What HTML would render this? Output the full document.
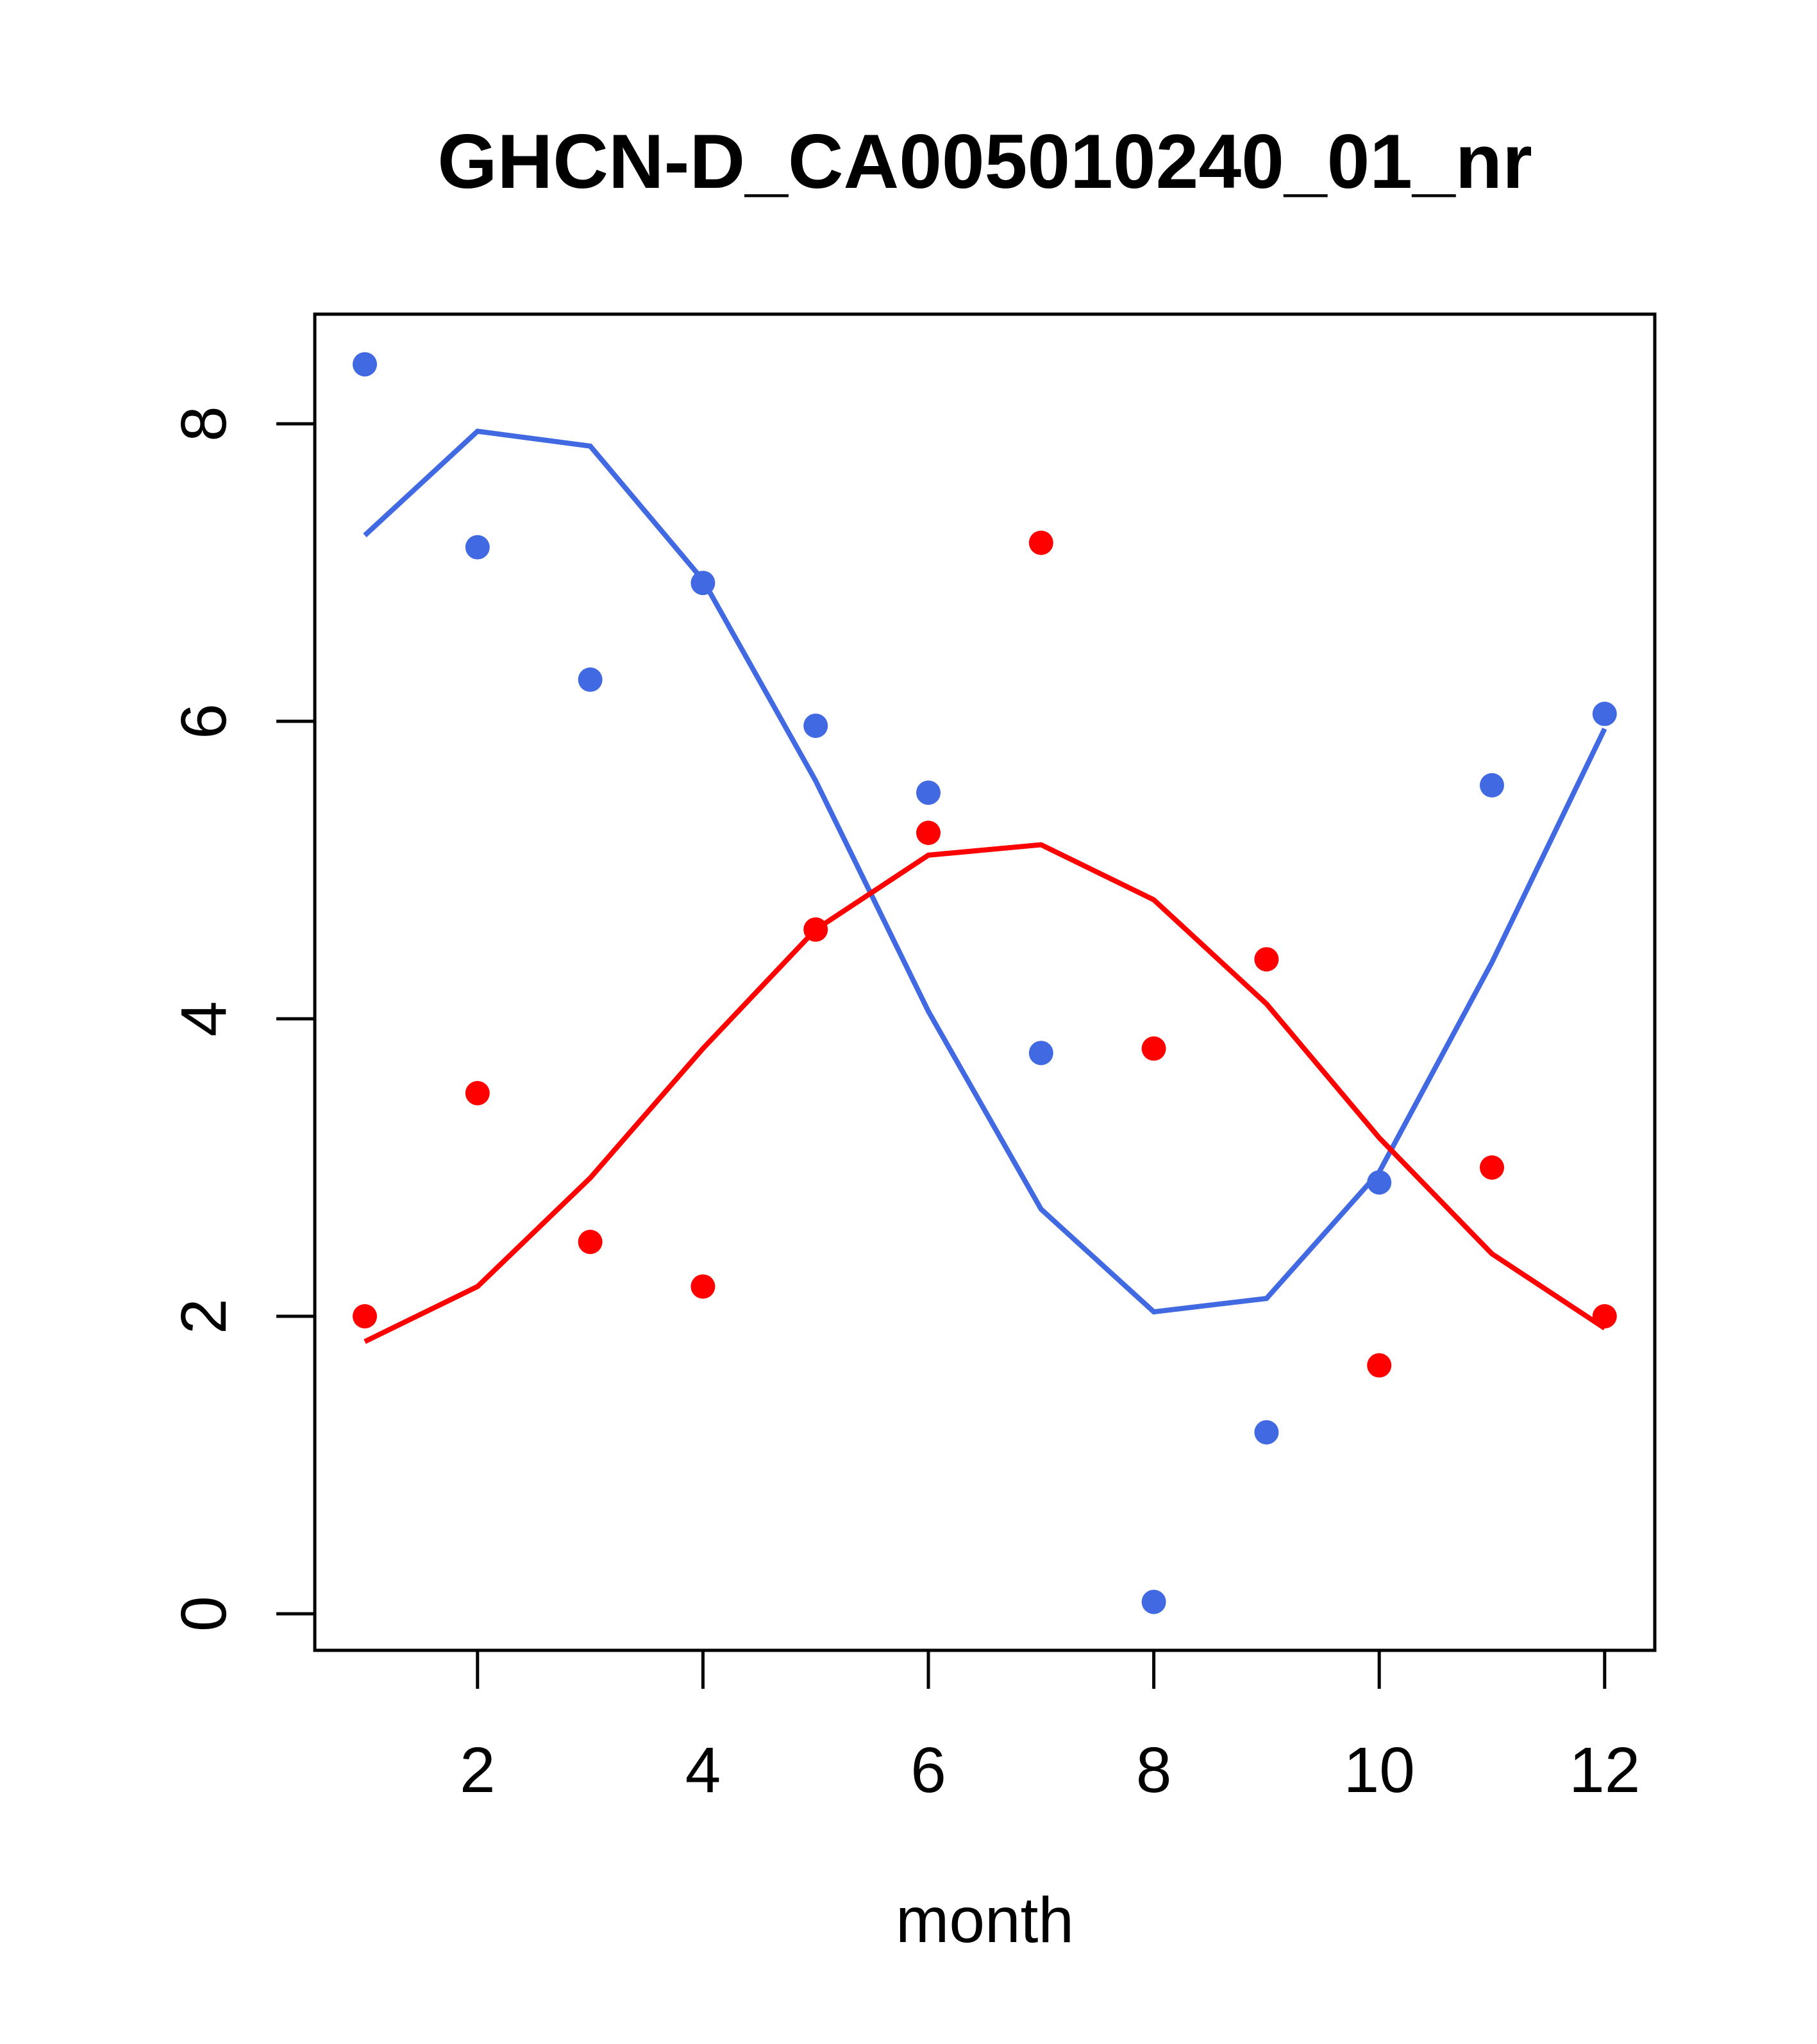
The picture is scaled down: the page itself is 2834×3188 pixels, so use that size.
<!DOCTYPE html>
<html><head><meta charset="utf-8"><style>html,body{margin:0;padding:0;background:#fff}svg{display:block}</style></head>
<body>
<svg id="chart" width="2834" height="3188" viewBox="0 0 2834 3188" xmlns="http://www.w3.org/2000/svg" font-family="Liberation Sans, Arial, sans-serif">
<rect width="2834" height="3188" fill="#fff"/>
<text x="1536" y="293" text-anchor="middle" font-size="120" font-weight="bold">GHCN-D_CA005010240_01_nr</text>
<rect x="491" y="490" width="2090" height="2084" fill="none" stroke="#000" stroke-width="5"/>
<text x="1536" y="3029" text-anchor="middle" font-size="100">month</text>
<g id="axes"></g>
<g id="series"></g>
</svg>
<script>
const months = [1,2,3,4,5,6,7,8,9,10,11,12];
const bluePoints = [8.4,7.17,6.28,6.93,5.97,5.52,3.77,0.08,1.22,2.9,5.57,6.05];
const blueLine = [7.25,7.95,7.85,6.95,5.6,4.05,2.72,2.03,2.12,2.97,4.38,5.95];
const redPoints = [2.0,3.5,2.5,2.2,4.6,5.25,7.2,3.8,4.4,1.67,3.0,2.0];
const redLine = [1.83,2.2,2.93,3.8,4.6,5.1,5.17,4.8,4.1,3.2,2.42,1.92];
const xTicks = [2,4,6,8,10,12];
const yTicks = [0,2,4,6,8];

const NS = 'http://www.w3.org/2000/svg';
function sx(v){ return 569 + (v-1)*175.8; }
function sy(v){ return 2517 - v*232; }
function mk(tag, attrs, parent){ const e=document.createElementNS(NS,tag); for(const k in attrs) e.setAttribute(k,attrs[k]); parent.appendChild(e); return e; }
const axes=document.getElementById('axes'), series=document.getElementById('series');

xTicks.forEach(t=>{
  const l=mk('line',{x1:sx(t),x2:sx(t),y1:2574,y2:2634,stroke:'#000','stroke-width':5},axes);
  
  
  const tx=mk('text',{x:sx(t),y:2795,'text-anchor':'middle','font-size':100},axes);
  tx.textContent=t;
  
  
});
yTicks.forEach(t=>{
  const l=mk('line',{x1:431,x2:491,y1:sy(t),y2:sy(t),stroke:'#000','stroke-width':5},axes);
  
  
  const tx=mk('text',{x:0,y:0,'text-anchor':'middle','font-size':100,transform:`translate(352,${sy(t)}) rotate(-90)`},axes);
  tx.textContent=t;
  
  
});

function line(vals,color,name){
  const p=mk('polyline',{points:months.map((m,i)=>sx(m)+','+sy(vals[i])).join(' '),fill:'none',stroke:color,'stroke-width':8},series);
  
  
}
function pts(vals,color,name){
  months.forEach((m,i)=>{
    const c=mk('circle',{cx:sx(m),cy:sy(vals[i]),r:19,fill:color},series);
    
    
  });
}
line(blueLine,'#4169E1','blue-smooth-line');
line(redLine,'#FF0000','red-smooth-line');
pts(bluePoints,'#4169E1','blue-point');
pts(redPoints,'#FF0000','red-point');
</script>
</body></html>
